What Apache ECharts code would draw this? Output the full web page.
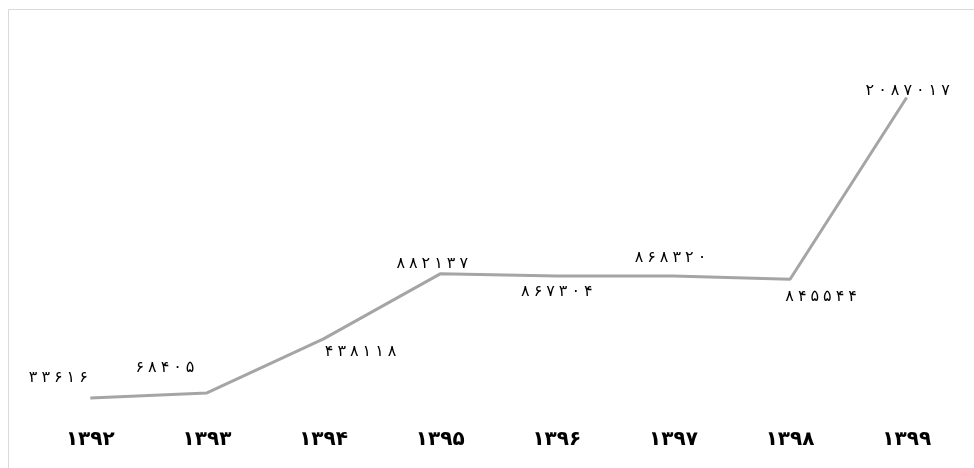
<!DOCTYPE html>
<html><head><meta charset="utf-8">
<script src="https://cdn.jsdelivr.net/npm/echarts@6/dist/echarts.min.js"></script>
<style>html,body{margin:0;padding:0;background:#fff}#c{width:974px;height:468px}</style>
</head><body><div id="c"></div>
<script>
const years = [1392, 1393, 1394, 1395, 1396, 1397, 1398, 1399];
const values = [33616, 68405, 438118, 882137, 867304, 868320, 845544, 2087017];
const labelOffsets = [[-32,-20],[-42,-25],[37,13],[-8,-10],[0,16],[-3,-18],[31,18],[1,-7]];
function fa(n){ return String(n).replace(/[0-9]/g, d => '۰۱۲۳۴۵۶۷۸۹'[+d]); }
function faSpaced(n){ return fa(n).split('').join('\u2005'); }
const chart = echarts.init(document.getElementById('c'));
chart.setOption({
  animation:false,
  backgroundColor:'#fff',
  graphic:[
    {type:'line', shape:{x1:8.5,y1:9.5,x2:974,y2:9.5}, style:{stroke:'#d9d9d9',lineWidth:1}},
    {type:'line', shape:{x1:8.5,y1:9.5,x2:8.5,y2:468}, style:{stroke:'#d9d9d9',lineWidth:1}}
  ],
  grid:{left:32,right:9,top:37,bottom:65},
  xAxis:{type:'category',data:years.map(fa),boundaryGap:true,
    axisLine:{show:false},axisTick:{show:false},
    axisLabel:{margin:27,fontSize:20,fontWeight:'bold',color:'#000',fontFamily:'DejaVu Sans'}},
  yAxis:{type:'value',min:0,max:2500000,show:false,splitLine:{show:false}},
  series:[{type:'line',data:values.map((v,i)=>({value:v,label:{offset:labelOffsets[i]}})),
    symbol:'circle',symbolSize:1,showSymbol:true,itemStyle:{color:'rgba(0,0,0,0)'},
    lineStyle:{color:'#a5a5a5',width:3},
    label:{show:true,position:'inside',color:'#000',fontSize:16,fontFamily:'DejaVu Sans',
      formatter:p=>faSpaced(p.value)}}]
});
</script></body></html>
